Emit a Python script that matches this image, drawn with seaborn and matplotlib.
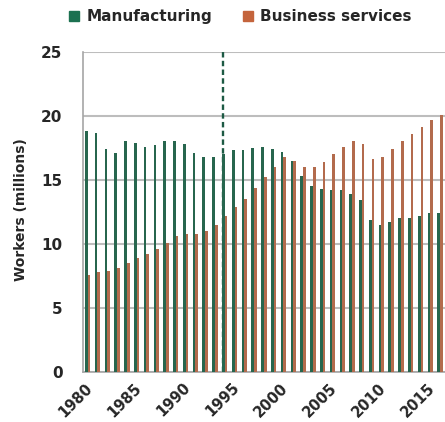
import pandas as pd
import matplotlib
matplotlib.use('Agg')
import matplotlib.pyplot as plt
import seaborn as sns

# data (millions of workers)
years = list(range(1980, 2017))
manufacturing = [18.8, 18.7, 17.4, 17.1, 18.0, 17.9, 17.6, 17.7, 18.0, 18.0,
                 17.8, 17.1, 16.8, 16.8, 17.0, 17.3, 17.3, 17.5, 17.6, 17.4,
                 17.2, 16.5, 15.3, 14.5, 14.3, 14.2, 14.2, 13.9, 13.4, 11.9,
                 11.5, 11.7, 12.0, 12.0, 12.2, 12.4, 12.4]
business = [7.6, 7.8, 7.9, 8.1, 8.5, 8.9, 9.2, 9.6, 10.1, 10.6,
            10.8, 10.8, 11.0, 11.5, 12.2, 12.9, 13.5, 14.4, 15.2, 16.0,
            16.8, 16.5, 16.0, 16.0, 16.4, 17.0, 17.6, 18.0, 17.8, 16.6,
            16.8, 17.4, 18.0, 18.6, 19.1, 19.7, 20.1]
sectors = ['Manufacturing', 'Business services']
tick_years = [1980, 1985, 1990, 1995, 2000, 2005, 2010, 2015]
marker_year = 1994

colors = {'Manufacturing': '#1c7151', 'Business services': '#c4643c'}

df = pd.DataFrame({
    'year': [str(y) for y in years] * 2,
    'sector': ['Manufacturing'] * len(years) + ['Business services'] * len(years),
    'workers': manufacturing + business,
})


def plot():
    sns.set_style('white')
    plt.rcParams['font.family'] = ['DejaVu Sans']

    fig = plt.figure(figsize=(4.45, 4.22), dpi=100)
    ax = fig.add_axes([0.186, 0.119, 0.814, 0.758])

    sns.barplot(
        data=df, x='year', y='workers', hue='sector',
        hue_order=sectors, palette=colors, width=0.55,
        edgecolor='none', ax=ax, legend=False, zorder=3,
    )

    # dashed marker lined up with the manufacturing bar of 1994
    ax.axvline(years.index(marker_year) - 0.1375, ymin=0, ymax=1,
               color='#1d5a44', linestyle=(0, (2.3, 1.4)), linewidth=1.7, zorder=2)

    ax.set_ylim(0, 25)
    ax.set_yticks([0, 5, 10, 15, 20, 25])
    ax.set_xlim(-0.5, len(years) - 0.5)

    # tick marks sit between categories, labels hang just right of them
    ax.set_xticks([years.index(y) - 0.5 for y in tick_years], minor=True)
    ax.set_xticks([years.index(y) - 0.3 for y in tick_years])
    ax.set_xticklabels([str(y) for y in tick_years], rotation=45,
                       ha='right', va='top', rotation_mode='anchor',
                       fontsize=10.5, fontweight='bold')
    ax.tick_params(axis='x', which='major', length=0, pad=6)
    ax.tick_params(axis='x', which='minor', length=4, color='#a6a6a6', width=1)

    ax.set_yticklabels([str(v) for v in [0, 5, 10, 15, 20, 25]],
                       fontsize=11, fontweight='bold')
    ax.tick_params(axis='y', length=3.6, color='#a6a6a6', width=1, pad=11)

    ax.yaxis.grid(True, color='#bdbdbd', linewidth=1.5, zorder=0)
    ax.set_axisbelow(True)
    for side in ['top', 'right']:
        ax.spines[side].set_visible(False)
    for side in ['left', 'bottom']:
        ax.spines[side].set_color('#a6a6a6')
        ax.spines[side].set_linewidth(1.2)

    ax.set_xlabel('')
    ax.set_ylabel('')
    fig.text(21.5 / 445, 1 - 210 / 422, 'Workers (millions)', rotation=90,
             ha='center', va='center', fontsize=10, fontweight='bold')

    handles = [plt.Rectangle((0, 0), 1, 1, color=colors[s]) for s in sectors]
    fig.legend(handles, sectors, loc='center', bbox_to_anchor=(0.54, 0.96),
               ncol=2, frameon=False, handlelength=0.65,
               handleheight=0.65, handletextpad=0.5, columnspacing=2.0,
               prop={'weight': 'bold', 'size': 11})

    fig.savefig('out.png', dpi=100)


if __name__ == '__main__':
    plot()
